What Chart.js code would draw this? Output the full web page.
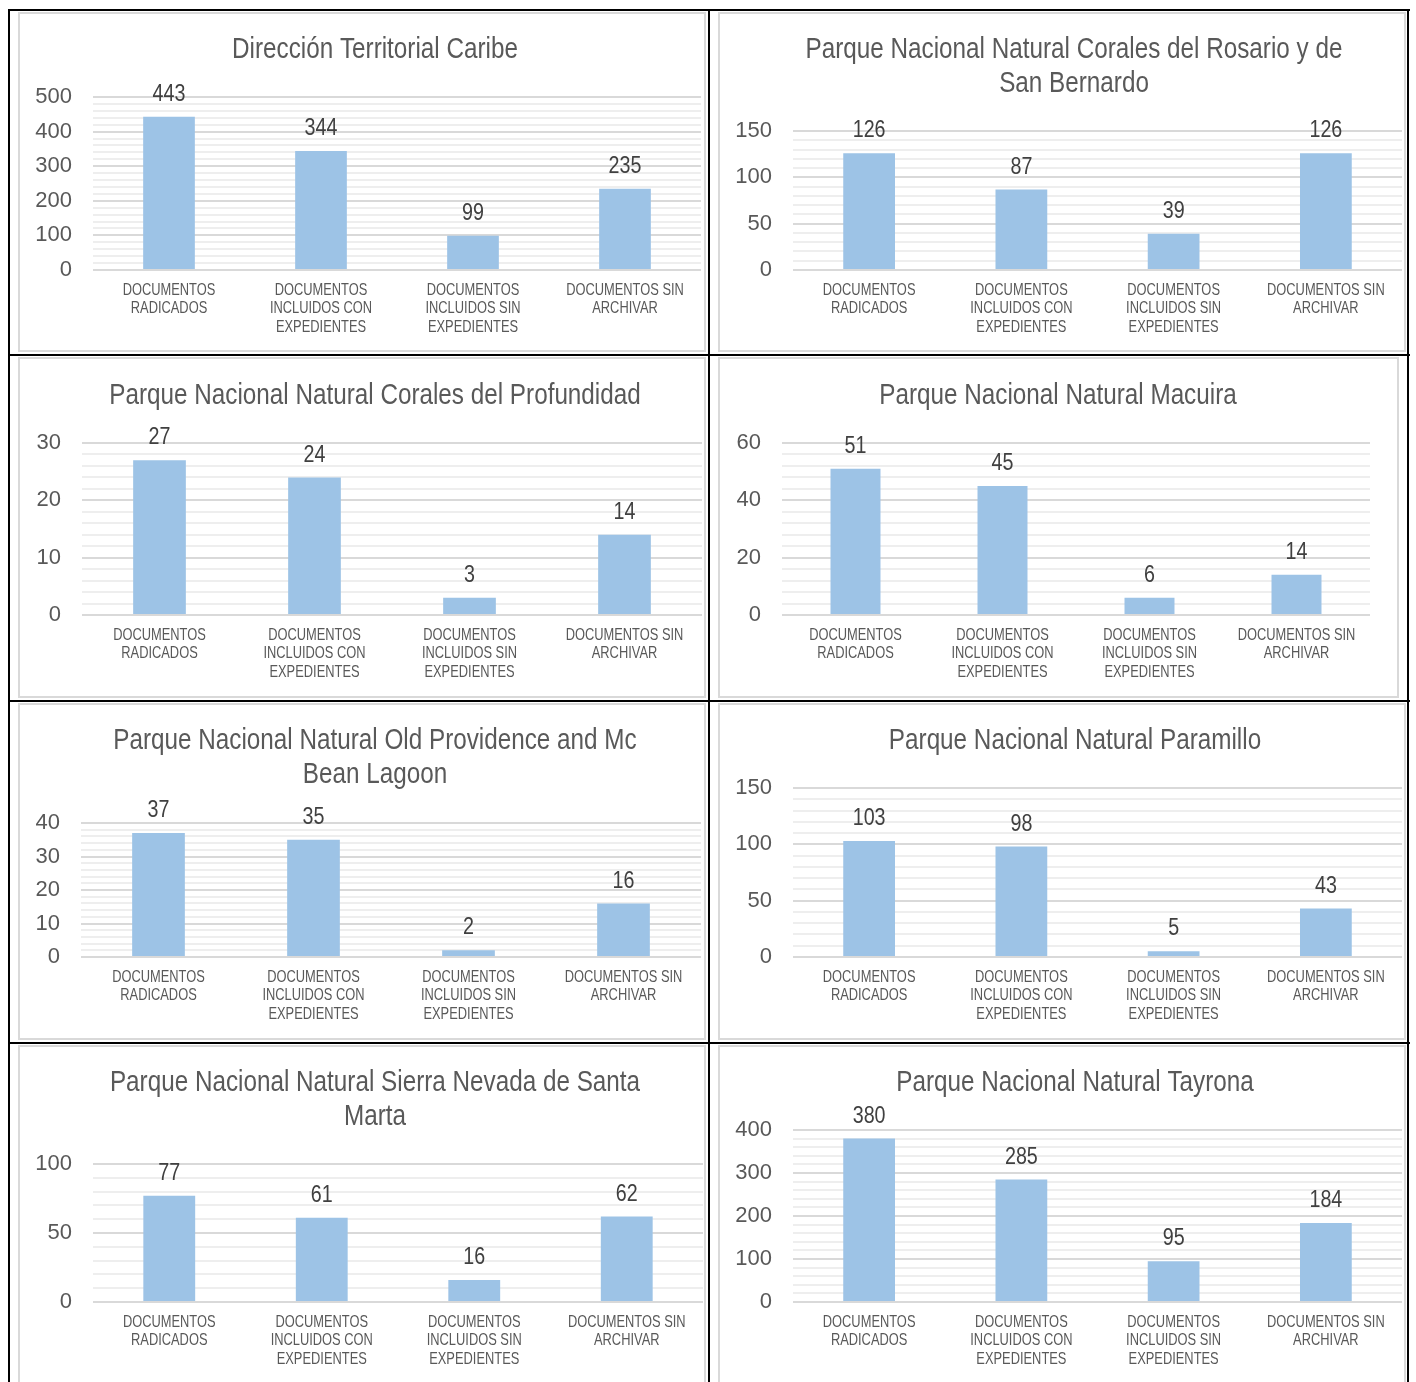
<!DOCTYPE html>
<html>
<head>
<meta charset="utf-8">
<script src="https://cdn.jsdelivr.net/npm/chart.js@4.4.1/dist/chart.umd.min.js"></script>
<style>
  html, body { margin: 0; padding: 0; background: #fff; }
  body { width: 1416px; height: 1382px; position: relative; overflow: hidden; }
  .rule { position: absolute; background: #000; }
  .frame { position: absolute; border: 2px solid #d9d9d9; box-sizing: border-box; }
  .frame canvas { display: block; }
</style>
</head>
<body>
<script>
// categories shared by every chart
const categories = [
  ['DOCUMENTOS', 'RADICADOS'],
  ['DOCUMENTOS', 'INCLUIDOS CON', 'EXPEDIENTES'],
  ['DOCUMENTOS', 'INCLUIDOS SIN', 'EXPEDIENTES'],
  ['DOCUMENTOS SIN', 'ARCHIVAR']
];

const titles = [
  ['Dirección Territorial Caribe'],
  ['Parque Nacional Natural Corales del Rosario y de', 'San Bernardo'],
  ['Parque Nacional Natural Corales del Profundidad'],
  ['Parque Nacional Natural Macuira'],
  ['Parque Nacional Natural Old Providence and Mc', 'Bean Lagoon'],
  ['Parque Nacional Natural Paramillo'],
  ['Parque Nacional Natural Sierra Nevada de Santa', 'Marta'],
  ['Parque Nacional Natural Tayrona']
];

const caribe = [443, 344, 99, 235];
const rosario = [126, 87, 39, 126];
const profundidad = [27, 24, 3, 14];
const macuira = [51, 45, 6, 14];
const oldProvidence = [37, 35, 2, 16];
const paramillo = [103, 98, 5, 43];
const sierraNevada = [77, 61, 16, 62];
const tayrona = [380, 285, 95, 184];
const seriesList = [caribe, rosario, profundidad, macuira, oldProvidence, paramillo, sierraNevada, tayrona];

// y axis: max, labelled step, gridline step
const axisMax = [500, 150, 30, 60, 40, 150, 100, 400];
const majorStep = [100, 50, 10, 20, 10, 50, 50, 100];
const minorStep = [20, 10, 2, 4, 2, 10, 10, 20];

// page layout: frame box [x, y, w, h], plot box [left, top, right, bottom], title centre
const boxes = [
  { frame: [18, 12, 688, 340],   plot: [93, 97, 701, 270],     titleX: 375,  titleY: 48 },
  { frame: [718, 12, 688, 340],  plot: [793, 131, 1402, 270],  titleX: 1074, titleY: 48 },
  { frame: [18, 357, 688, 341],  plot: [82, 443, 702, 615],    titleX: 375,  titleY: 394 },
  { frame: [718, 357, 681, 341], plot: [782, 443, 1370, 615],  titleX: 1058, titleY: 394 },
  { frame: [18, 703, 688, 337],  plot: [81, 823, 701, 957],    titleX: 375,  titleY: 739 },
  { frame: [718, 703, 688, 337], plot: [793, 788, 1402, 957],  titleX: 1075, titleY: 739 },
  { frame: [18, 1045, 688, 345], plot: [93, 1164, 703, 1302],  titleX: 375,  titleY: 1081 },
  { frame: [718, 1045, 688, 345],plot: [793, 1130, 1402, 1302],titleX: 1075, titleY: 1081 }
];

const SANS = '"Liberation Sans", Arial, sans-serif';
const SQUEEZE = 0.82;   // narrow look of the original
const BORDER = 2;
const TITLE_SIZE = 29.6;
const TITLE_LINE = 34;

// table rules
function rule(x, y, w, h) {
  const d = document.createElement('div');
  d.className = 'rule';
  d.style.left = x + 'px'; d.style.top = y + 'px';
  d.style.width = w + 'px'; d.style.height = h + 'px';
  document.body.appendChild(d);
}
rule(8, 9, 1402, 2);
rule(8, 9, 2, 1380);
rule(708, 9, 2, 1380);
rule(1407, 9, 2, 1380);
rule(8, 354, 1402, 2);
rule(8, 700, 1402, 2);
rule(8, 1042, 1402, 2);

function narrowText(ctx, text, x, y, size, color) {
  ctx.save();
  ctx.font = size + 'px ' + SANS;
  ctx.fillStyle = color;
  ctx.textAlign = 'center';
  ctx.textBaseline = 'middle';
  ctx.translate(x, y);
  ctx.scale(SQUEEZE, 1);
  ctx.fillText(text, 0, 0);
  ctx.restore();
}

function isMajor(v, step) {
  return Math.abs(v / step - Math.round(v / step)) < 1e-6;
}

seriesList.forEach((values, i) => {
  const box = boxes[i];
  const [fx, fy, fw, fh] = box.frame;
  const [pl, pt, pr, pb] = box.plot;
  const cw = fw - 2 * BORDER, ch = fh - 2 * BORDER;
  const cx = fx + BORDER, cy = fy + BORDER;

  const wrap = document.createElement('div');
  wrap.className = 'frame';
  wrap.style.left = fx + 'px'; wrap.style.top = fy + 'px';
  wrap.style.width = fw + 'px'; wrap.style.height = fh + 'px';
  const canvas = document.createElement('canvas');
  canvas.width = cw; canvas.height = ch;
  canvas.style.width = cw + 'px'; canvas.style.height = ch + 'px';
  wrap.appendChild(canvas);
  document.body.appendChild(wrap);

  const lines = titles[i].length;
  const titleTop = box.titleY - cy - TITLE_LINE / 2;
  const titleBottom = (pt - cy) - titleTop - lines * TITLE_LINE;
  const major = majorStep[i];

  // title, category labels and values drawn narrow
  const narrowLabels = {
    id: 'narrowLabels',
    afterDraw(chart) {
      const ctx = chart.ctx;
      titles[i].forEach((t, k) => {
        narrowText(ctx, t, box.titleX - cx, box.titleY - cy + 2 + k * TITLE_LINE, TITLE_SIZE, '#595959');
      });
      const xs = chart.scales.x;
      categories.forEach((lab, k) => {
        const x = xs.getPixelForTick(k);
        lab.forEach((ln, j) => {
          narrowText(ctx, ln, x, chart.chartArea.bottom + 20.5 + j * 18.5, 15.7, '#595959');
        });
      });
      const meta = chart.getDatasetMeta(0);
      meta.data.forEach((bar, k) => {
        narrowText(ctx, String(values[k]), bar.x, bar.y - 22.5, 24, '#404040');
      });
    }
  };

  new Chart(canvas, {
    type: 'bar',
    data: {
      labels: categories,
      datasets: [{
        data: values,
        backgroundColor: '#9dc3e6',
        borderWidth: 0,
        barPercentage: 0.34,
        categoryPercentage: 1
      }]
    },
    options: {
      responsive: false,
      animation: false,
      layout: { padding: { left: 0, top: 0, right: cx + cw - pr, bottom: 0 } },
      plugins: {
        legend: { display: false },
        tooltip: { enabled: false },
        title: {
          display: true,
          text: titles[i],
          color: 'rgba(0,0,0,0)',
          font: { family: SANS, size: TITLE_SIZE, weight: 'normal', lineHeight: TITLE_LINE / TITLE_SIZE },
          padding: { top: titleTop, bottom: titleBottom }
        }
      },
      scales: {
        x: {
          grid: { display: false, drawTicks: false },
          border: { display: false },
          ticks: {
            // placeholder size only, the visible labels are drawn by narrowLabels
            color: 'rgba(0,0,0,0)',
            font: { family: SANS, size: 6 },
            padding: 10,
            maxRotation: 0,
            autoSkip: false
          },
          afterFit: s => { s.height = cy + ch - pb; }
        },
        y: {
          min: 0,
          max: axisMax[i],
          grid: {
            drawTicks: false,
            lineWidth: 2,
            color: c => isMajor(c.tick.value, major) ? '#d9d9d9' : '#eeeeee'
          },
          border: { display: false },
          ticks: {
            stepSize: minorStep[i],
            autoSkip: false,
            color: '#595959',
            font: { family: SANS, size: 22 },
            padding: 21,
            callback: v => isMajor(v, major) ? String(v) : ''
          },
          afterFit: s => { s.width = pl - cx; }
        }
      }
    },
    plugins: [narrowLabels]
  });
});
</script>
</body>
</html>
